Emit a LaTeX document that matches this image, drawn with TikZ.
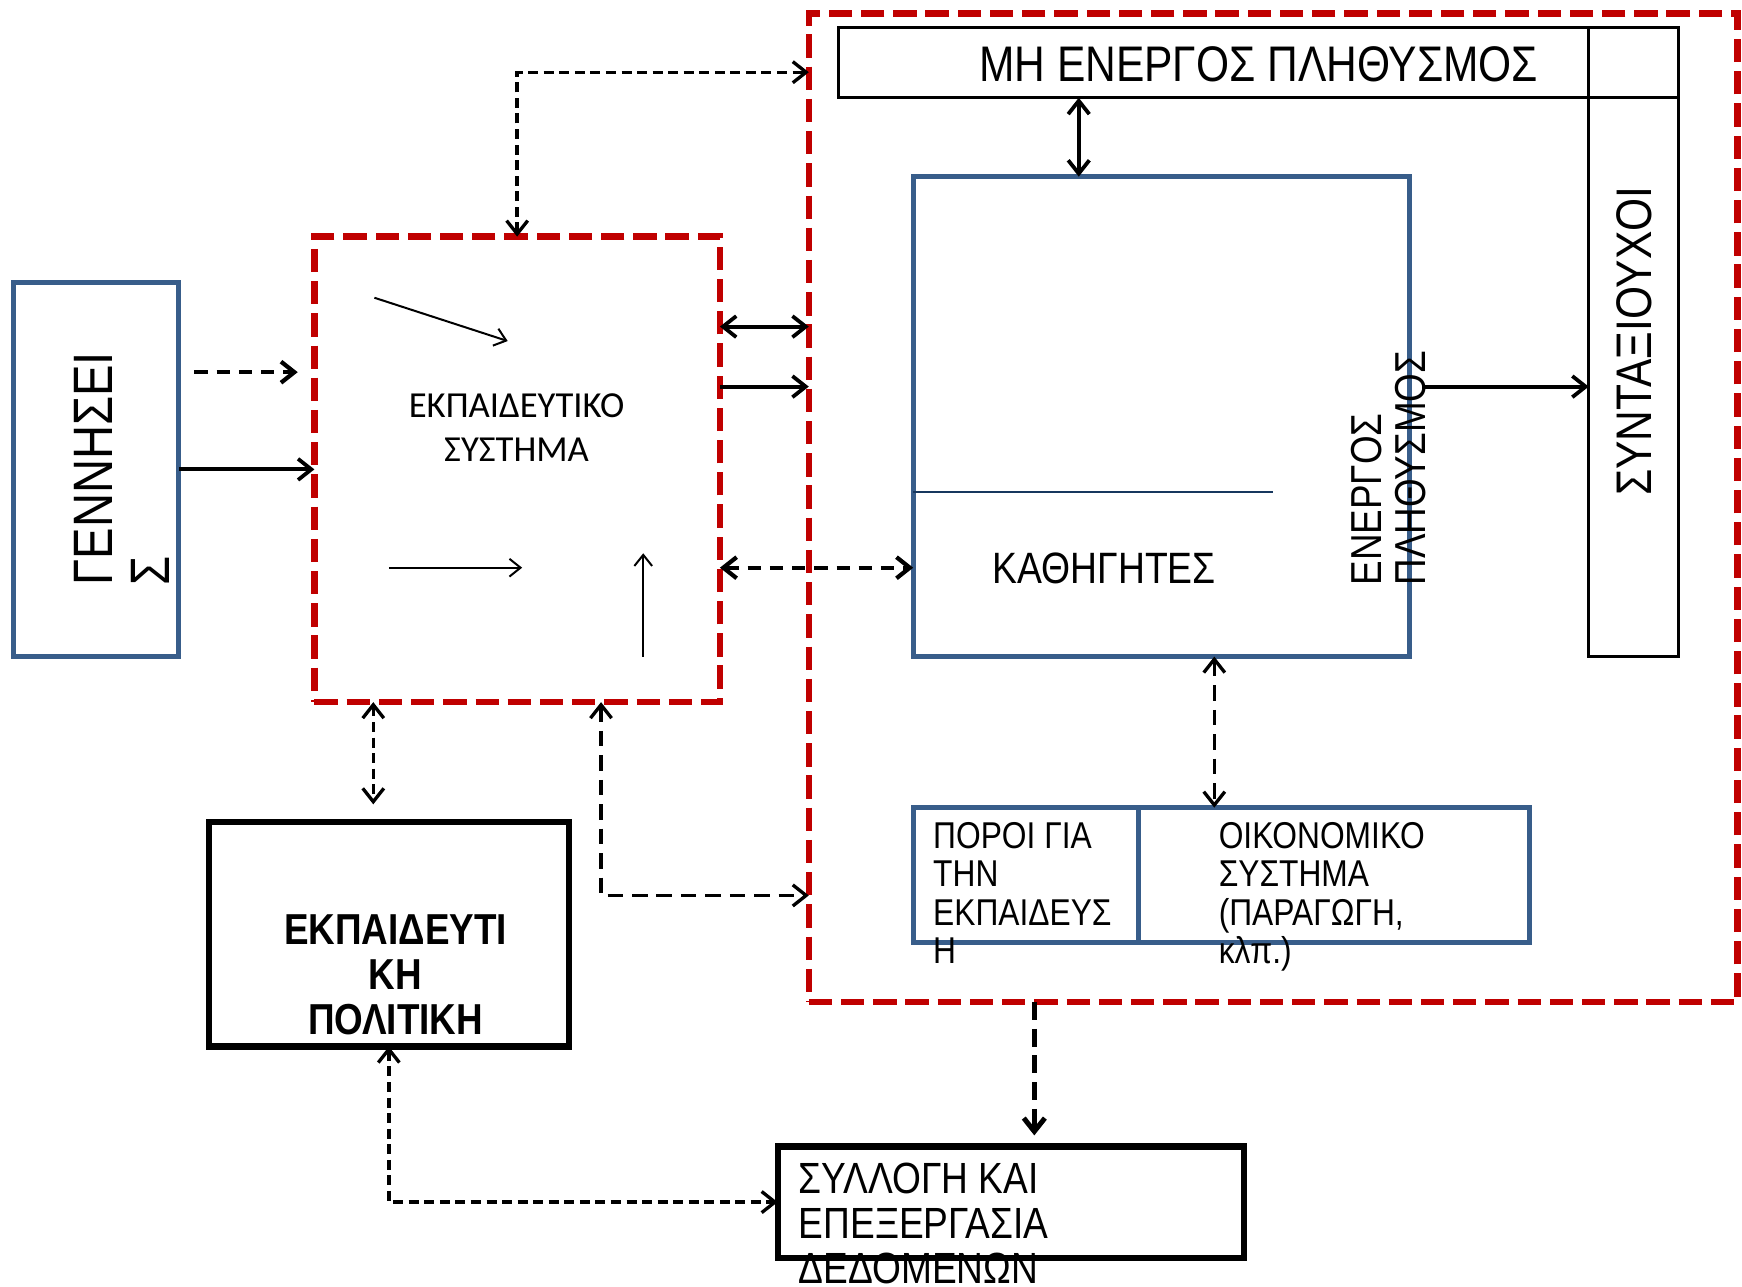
\documentclass[tikz,border=0pt]{standalone}
\usepackage{fontspec}
\setmainfont{Liberation Sans}
\newfontfamily\arl[FakeStretch=0.85]{Liberation Sans}
\newfontfamily\calib{Carlito}
\usetikzlibrary{arrows.meta}
\definecolor{boxblue}{RGB}{56,93,138}
\definecolor{dashred}{RGB}{192,0,0}
\definecolor{navyline}{RGB}{23,55,94}

\begin{document}
\begin{tikzpicture}[x=1pt,y=-1pt,
  every node/.style={inner sep=0pt, outer sep=0pt},
  bluebox/.style={draw=boxblue, line width=4.5pt, rectangle},
  redframe/.style={draw=dashred, line width=5.8pt, dash pattern=on 21pt off 8pt, rectangle},
  heavybox/.style={draw=black, line width=5.5pt, rectangle},
  thinbox/.style={draw=black, line width=2.5pt, rectangle},
  barb/.tip={Straight Barb[length=12pt,width=19pt]},
  smallbarb/.tip={Straight Barb[length=10pt,width=16pt]},
  >=barb,
  solidlink/.style={line width=3.4pt},
  dashlink/.style={line width=3.8pt, dash pattern=on 12pt off 8pt},
  finedash/.style={line width=3pt, dash pattern=on 9pt off 5pt},
  longdash/.style={line width=3pt, dash pattern=on 14pt off 8pt},
  heavydash/.style={line width=4.5pt, dash pattern=on 16pt off 8pt},
  thinarrow/.style={line width=1.8pt, -smallbarb}
]
\useasboundingbox (0,0) rectangle (1568,1158);
\fill[white] (0,0) rectangle (1568,1158);

% boxes
\node[bluebox, minimum width=149pt, minimum height=337pt] (births) at (86.5,422.5) {};
\node[redframe, minimum width=365pt, minimum height=419pt] (edu) at (465.5,422.5) {};
\node[redframe, minimum width=836pt, minimum height=890pt] (big) at (1146,457) {};
\node[thinbox, minimum width=81pt, minimum height=566pt] (pens) at (1470.5,308) {};
\node[thinbox, minimum width=756pt, minimum height=63pt] (inact) at (1133,56.5) {};
\node[bluebox, minimum width=447pt, minimum height=432pt] (teach) at (1045.5,375) {};
\coordinate (split) at (1146,443);
\draw[navyline, line width=2.2pt] (teach.west |- split) -- (split);
\node[bluebox, minimum width=203pt, minimum height=121pt] (res) at (923.5,787.5) {};
\node[bluebox, minimum width=352pt, minimum height=121pt] (econ) at (1201,787.5) {};
\node[heavybox, minimum width=324pt, minimum height=202pt] (policy) at (350,841) {};
\node[heavybox, minimum width=420pt, minimum height=100pt] (data) at (910,1082) {};

% labels
\node[font=\calib\fontsize{33}{40}\selectfont, align=center] (edulbl) at (465,385) {ΕΚΠΑΙΔΕΥΤΙΚΟ\\ΣΥΣΤΗΜΑ};
\node[font=\arl\fontsize{45}{47}\selectfont] (inactlbl) at (1133,58) {ΜΗ ΕΝΕΡΓΟΣ ΠΛΗΘΥΣΜΟΣ};
\node[font=\arl\fontsize{39.5}{40}\selectfont] (teachlbl) at (994,512) {ΚΑΘΗΓΗΤΕΣ};
\node[font=\arl\fontsize{39}{40}\selectfont, rotate=90, align=left, anchor=north west] (actlbl) at (1216,527) {ΕΝΕΡΓΟΣ\\ΠΛΗΘΥΣΜΟΣ};
\node[font=\arl\fontsize{45}{47}\selectfont, rotate=90] (penslbl) at (1471,307) {ΣΥΝΤΑΞΙΟΥΧΟΙ};
\node[font=\arl\fontsize{50}{51}\selectfont, rotate=90, align=left, anchor=north west] (birthlbl) at (67,527) {ΓΕΝΝΗΣΕΙ\\Σ};
\node[font=\arl\fontsize{33.6}{34.7}\selectfont, align=left, anchor=north west] (reslbl) at (840,740) {ΠΟΡΟΙ ΓΙΑ\\ΤΗΝ\\ΕΚΠΑΙΔΕΥΣ\\Η};
\node[font=\arl\fontsize{33.6}{34.7}\selectfont, align=left, anchor=north west] (econlbl) at (1097,740) {ΟΙΚΟΝΟΜΙΚΟ\\ΣΥΣΤΗΜΑ\\(ΠΑΡΑΓΩΓΗ,\\κλπ.)};
\node[font=\arl\bfseries\fontsize{39}{40.5}\selectfont, align=center] (polylbl) at (356,877) {ΕΚΠΑΙΔΕΥΤΙ\\ΚΗ\\ΠΟΛΙΤΙΚΗ};
\node[font=\arl\fontsize{39.3}{40.5}\selectfont, align=left, anchor=north west] (datalbl) at (719,1047) {ΣΥΛΛΟΓΗ ΚΑΙ\\ΕΠΕΞΕΡΓΑΣΙΑ\\ΔΕΔΟΜΕΝΩΝ};

% flows inside the education system
\coordinate (s1) at (337,268); \coordinate (t1) at (457,307);
\coordinate (s2) at (350,511); \coordinate (t2) at (470,511);
\coordinate (s3) at (579,591); \coordinate (t3) at (579,498);
\draw[thinarrow] (s1) -- (t1);
\draw[thinarrow] (s2) -- (t2);
\draw[thinarrow] (s3) -- (t3);

% connectors
\draw[dashlink, ->, shorten <=14pt, shorten >=15pt] (births.east |- 0,335) -- (edu.west |- 0,335);
\draw[solidlink, ->] (births) -- (edu);
\draw[solidlink, <->] (edu.east |- 0,294) -- (big.west |- 0,294);
\draw[solidlink, ->] (edu.east |- 0,348) -- (big.west |- 0,348);
\draw[dashlink, <->] (edu.east |- 0,511) -- (teach.west |- 0,511);
\draw[finedash, <->] (edu.north) |- (big.west |- 0,65);
\draw[finedash, <->, shorten >=16pt] (edu.south -| 336,0) -- (policy.north -| 336,0);
\draw[longdash, <->] (edu.south -| 541,0) |- (big.west |- 0,806);
\draw[finedash, <->] (policy.south) |- (data.west);
\draw[heavydash, ->, shorten >=10pt] (big.south -| 931,0) -- (data.north -| 931,0);
\draw[solidlink, <->] (inact.south -| 971,0) -- (teach.north -| 971,0);
\draw[solidlink, ->, shorten <=11pt] (teach.east |- 0,348) -- (pens.west |- 0,348);
\draw[longdash, <->] (teach.south -| 1093,0) -- (econ.north -| 1093,0);
\end{tikzpicture}
\end{document}
